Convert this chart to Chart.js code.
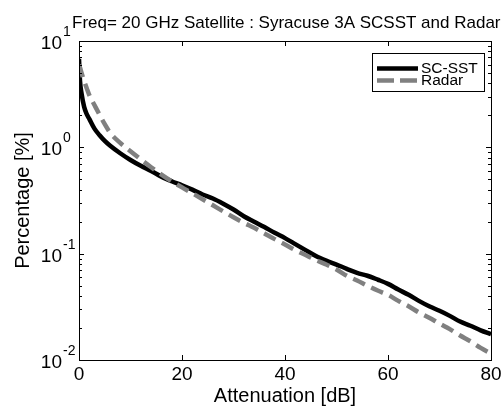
<!DOCTYPE html>
<html>
<head>
<meta charset="utf-8">
<script src="https://cdn.jsdelivr.net/npm/chart.js@4/dist/chart.umd.min.js"></script>
<style>
html,body{margin:0;padding:0;background:#fff;}
#wrap{width:504px;height:409px;}
</style>
</head>
<body>
<div id="wrap"><canvas id="c" width="504" height="409"></canvas></div>
<script>
// ---- data ----
const titleText = "Freq= 20 GHz Satellite : Syracuse 3A SCSST and Radar";
const xTitle = "Attenuation [dB]";
const yTitle = "Percentage [%]";
const seriesNames = ["SC-SST", "Radar"];
const xTicks = [0, 20, 40, 60, 80];
const yExponents = [-2, -1, 0, 1];

const attenuation = [0, 0.2, 0.5, 1, 1.5, 2, 3, 4, 5, 6, 8, 10, 12, 14, 16, 18, 20, 22, 24, 26, 28, 30, 32, 34, 36, 38, 40, 42, 44, 46, 48, 50, 52, 54, 56, 58, 60, 62, 64, 66, 68, 70, 72, 74, 76, 78, 80];
const scsst = [6.8, 4.2, 3.2, 2.4, 2.05, 1.85, 1.5, 1.3, 1.15, 1.04, 0.88, 0.76, 0.67, 0.6, 0.53, 0.48, 0.44, 0.40, 0.36, 0.33, 0.295, 0.26, 0.225, 0.2, 0.178, 0.157, 0.14, 0.123, 0.108, 0.095, 0.086, 0.079, 0.072, 0.066, 0.062, 0.057, 0.052, 0.046, 0.041, 0.036, 0.032, 0.029, 0.026, 0.023, 0.021, 0.019, 0.0175];
const radar = [6.0, 5.6, 5.0, 4.2, 3.6, 3.1, 2.5, 2.02, 1.65, 1.38, 1.1, 0.92, 0.77, 0.65, 0.555, 0.48, 0.42, 0.37, 0.325, 0.285, 0.25, 0.22, 0.195, 0.175, 0.155, 0.137, 0.122, 0.108, 0.097, 0.087, 0.079, 0.071, 0.062, 0.056, 0.05, 0.045, 0.041, 0.036, 0.032, 0.028, 0.025, 0.022, 0.0195, 0.017, 0.015, 0.013, 0.0115];

const FONT = "'Liberation Sans', Arial, Helvetica, sans-serif";
const GRAY = "#808080";
const DASH = [13, 7];

const toPts = (xs, ys) => xs.map((x, i) => ({x: x, y: ys[i]}));

const decor = {
  id: 'decor',
  afterDatasetsDraw(chart) {
    const ctx = chart.ctx;
    const a = chart.chartArea;
    const xs = chart.scales.x, ys = chart.scales.y;
    ctx.save();
    // frame
    ctx.strokeStyle = '#000';
    ctx.lineWidth = 1;
    ctx.strokeRect(Math.round(a.left) + 0.5, Math.round(a.top) + 0.5, Math.round(a.right - a.left), Math.round(a.bottom - a.top));
    // x ticks (bottom and top, inward)
    ctx.beginPath();
    xTicks.forEach(v => {
      const px = Math.round(xs.getPixelForValue(v)) + 0.5;
      ctx.moveTo(px, a.bottom); ctx.lineTo(px, a.bottom - 5);
      ctx.moveTo(px, a.top); ctx.lineTo(px, a.top + 5);
    });
    // y ticks major + minor (left and right, inward)
    for (let e = -2; e <= 1; e++) {
      for (let m = 1; m <= 9; m++) {
        const v = m * Math.pow(10, e);
        if (v > 10.0001) break;
        const py = Math.round(ys.getPixelForValue(v)) + 0.5;
        const len = (m === 1) ? 5 : 3;
        ctx.moveTo(a.left, py); ctx.lineTo(a.left + len, py);
        ctx.moveTo(a.right, py); ctx.lineTo(a.right - len, py);
      }
    }
    ctx.stroke();

    ctx.fillStyle = '#000';
    // x tick labels
    ctx.font = '19px ' + FONT;
    ctx.textAlign = 'center';
    ctx.textBaseline = 'alphabetic';
    xTicks.forEach(v => {
      ctx.fillText(String(v), xs.getPixelForValue(v), a.bottom + 20);
    });
    // y tick labels 10^e
    yExponents.forEach(e => {
      const py = ys.getPixelForValue(Math.pow(10, e));
      ctx.font = '19px ' + FONT;
      ctx.textAlign = 'right';
      ctx.fillText('10', 62, py + 8);
      ctx.font = '14px ' + FONT;
      ctx.textAlign = 'left';
      ctx.fillText(String(e), 63, py - 5);
    });
    // title
    ctx.font = '17px ' + FONT;
    ctx.textAlign = 'left';
    ctx.fillText(titleText, 72, 28);
    // x title
    ctx.font = '20px ' + FONT;
    ctx.textAlign = 'center';
    ctx.fillText(xTitle, (a.left + a.right) / 2, 402);
    // y title
    ctx.save();
    ctx.translate(29, (a.top + a.bottom) / 2);
    ctx.rotate(-Math.PI / 2);
    ctx.textAlign = 'center';
    ctx.textBaseline = 'alphabetic';
    ctx.fillText(yTitle, 0, 0);
    ctx.restore();

    // legend
    const lx = 372, ly = 53, lw = 112, lh = 38;
    ctx.fillStyle = '#fff';
    ctx.fillRect(lx, ly, lw, lh);
    ctx.strokeStyle = '#000';
    ctx.lineWidth = 1;
    ctx.strokeRect(lx + 0.5, ly + 0.5, lw, lh);
    ctx.lineWidth = 4.5;
    ctx.lineCap = 'butt';
    ctx.beginPath();
    ctx.strokeStyle = '#000';
    ctx.moveTo(377, 68.5); ctx.lineTo(418, 68.5);
    ctx.stroke();
    ctx.beginPath();
    ctx.strokeStyle = GRAY;
    ctx.setLineDash([17, 6]);
    ctx.moveTo(377, 80.5); ctx.lineTo(418, 80.5);
    ctx.stroke();
    ctx.setLineDash([]);
    ctx.fillStyle = '#000';
    ctx.font = '15.5px ' + FONT;
    ctx.textAlign = 'left';
    ctx.textBaseline = 'middle';
    ctx.fillText(seriesNames[0], 421, 69);
    ctx.fillText(seriesNames[1], 421, 81);
    ctx.restore();
  }
};

new Chart(document.getElementById('c'), {
  type: 'line',
  data: {
    datasets: [
      { label: seriesNames[0], data: toPts(attenuation, scsst), borderColor: '#000', borderWidth: 4.5,
        pointRadius: 0, fill: false, cubicInterpolationMode: 'monotone', order: 2 },
      { label: seriesNames[1], data: toPts(attenuation, radar), borderColor: GRAY, borderWidth: 4.5,
        borderDash: DASH, pointRadius: 0, fill: false, cubicInterpolationMode: 'monotone', order: 1 }
    ]
  },
  options: {
    responsive: false,
    devicePixelRatio: 1,
    animation: false,
    events: [],
    layout: { padding: { left: 79, right: 13, top: 41, bottom: 49 } },
    plugins: { legend: { display: false }, title: { display: false }, tooltip: { enabled: false } },
    scales: {
      x: { type: 'linear', min: 0, max: 80,
           ticks: { display: false }, grid: { display: false, drawTicks: false }, border: { display: false },
           afterFit: s => { s.height = 0; } },
      y: { type: 'logarithmic', min: 0.01, max: 10,
           ticks: { display: false }, grid: { display: false, drawTicks: false }, border: { display: false },
           afterFit: s => { s.width = 0; } }
    }
  },
  plugins: [decor]
});
</script>
</body>
</html>
